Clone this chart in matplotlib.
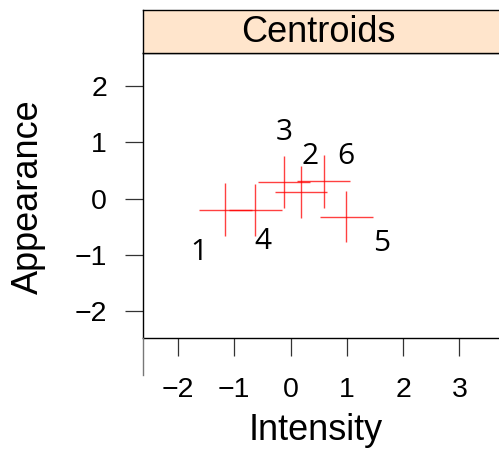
import matplotlib
matplotlib.use("Agg")
import matplotlib.pyplot as plt
from matplotlib.lines import Line2D

# Data
groups = ["1", "2", "3", "4", "5", "6"]
cx = [-1.16, 0.18, -0.12, -0.63, 0.99, 0.59]
cy = [-0.20, 0.12, 0.29, -0.20, -0.32, 0.31]
xerr = [0.47, 0.46, 0.46, 0.47, 0.47, 0.47]
yerr = [0.47, 0.46, 0.46, 0.46, 0.46, 0.47]
lab_x = [-1.62, 0.35, -0.12, -0.49, 1.61, 0.99]
lab_y = [-0.96, 0.75, 1.17, -0.76, -0.80, 0.74]
xticks = [-2, -1, 0, 1, 2, 3]
yticks = [-2, -1, 0, 1, 2]
title = "Centroids"
xlabel = "Intensity"
ylabel = "Appearance"

W, H = 499, 453
fig = plt.figure(figsize=(W / 100, H / 100), dpi=100)
plt.rcParams['font.family'] = ['Liberation Sans', 'DejaVu Sans']

def fx(px):
    return px / W

def fy(py):
    return 1 - py / H

left, right, top, bottom = 143, 500, 53, 338
ax = fig.add_axes([fx(left), fy(bottom), fx(right) - fx(left), fy(top) - fy(bottom)])
ax.set_xlim(-2.62, 3.72)
ax.set_ylim(-2.48, 2.59)

ax.errorbar(cx, cy, xerr=xerr, yerr=yerr, fmt='none', ecolor='#ff0000',
            elinewidth=1.0, alpha=0.75, capsize=0)
for g, lx, ly in zip(groups, lab_x, lab_y):
    ax.text(lx, ly, g, ha='center', va='center', fontsize=21.5,
            family=['Open Sans', 'DejaVu Sans'], color='black')

ax.set_xticks(xticks)
ax.set_yticks(yticks)
ax.set_xticklabels([str(t).replace('-', '\u2212') for t in xticks])
ax.set_yticklabels([str(t).replace('-', '\u2212') for t in yticks])
ax.tick_params(axis='both', direction='out', length=13, width=0.9,
               labelsize=20.5, color='#333333')
ax.tick_params(axis='x', pad=15)
ax.tick_params(axis='y', pad=13)
for s in ax.spines.values():
    s.set_linewidth(1.0)
    s.set_color('black')

fig.text(fx(316), fy(430), xlabel, ha='center', va='center', fontsize=26)
fig.text(fx(28), fy(197), ylabel, ha='center', va='center', fontsize=26, rotation=90)

# strip
sax = fig.add_axes([fx(left), fy(top), fx(right) - fx(left), fy(10) - fy(top)])
sax.set_facecolor('#ffe5cc')
sax.set_xticks([])
sax.set_yticks([])
for s in sax.spines.values():
    s.set_linewidth(1.0)
    s.set_color('black')
fig.text(fx(318), fy(32), title, ha='center', va='center', fontsize=26)

# extra axis line below panel
fig.add_artist(Line2D([fx(143), fx(143)], [fy(338), fy(375)], color='#777777', lw=1.0))

fig.savefig("out.png", dpi=100)
